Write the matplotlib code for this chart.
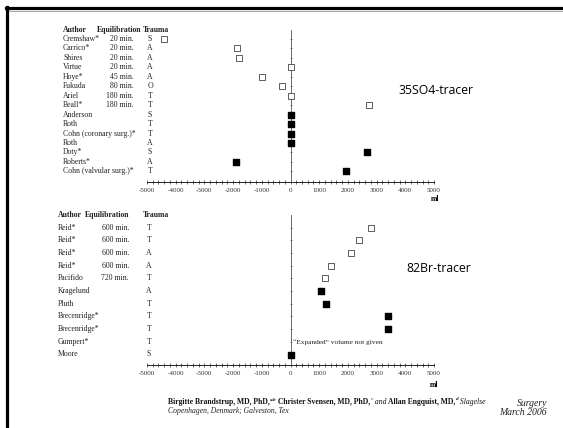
import numpy as np
import matplotlib
matplotlib.use("Agg")
import matplotlib.pyplot as plt
import matplotlib.transforms as mtransforms
from matplotlib.lines import Line2D
from matplotlib.ticker import MultipleLocator

plt.rcParams["axes.unicode_minus"] = False

# 35SO4 studies
top_authors = ["Cremshaw*", "Carrico*", "Shires", "Virtue", "Hoye*", "Fukuda", "Ariel", "Beall*",
               "Anderson", "Roth", "Cohn (coronary surg.)*", "Roth", "Doty*", "Roberts*",
               "Cohn (valvular surg.)*"]
top_equil = ["20 min.", "20 min.", "20 min.", "20 min.", "45 min.", "80 min.", "180 min.", "180 min.",
             "", "", "", "", "", "", ""]
top_trauma = ["S", "A", "A", "A", "A", "O", "T", "T", "S", "T", "T", "A", "S", "A", "T"]
top_values = [-4400, -1850, -1800, 0, -1000, -300, 0, 2750, 0, 0, 0, 0, 2650, -1900, 1950]
top_open = [True] * 8 + [False] * 7

# 82Br studies
bot_authors = ["Reid*", "Reid*", "Reid*", "Reid*", "Pacifido", "Kragelund", "Pluth",
               "Brecenridge*", "Brecenridge*", "Gumpert*", "Moore"]
bot_equil = ["600 min.", "600 min.", "600 min.", "600 min.", "720 min.", "", "", "", "", "", ""]
bot_trauma = ["T", "T", "A", "A", "T", "A", "T", "T", "T", "T", "S"]
bot_values = [2800, 2400, 2100, 1400, 1200, 1050, 1250, 3400, 3400, np.nan, 0]
bot_open = [True] * 5 + [False] * 6

W, H = 563, 428
serif = "Liberation Serif"


def fx(x):
    return x / W


def fy(y):
    return 1 - y / H


fig = plt.figure(figsize=(W / 100, H / 100), dpi=100)

# slide border
fig.add_artist(Line2D([fx(6), 1], [fy(8), fy(8)], color="black", lw=2.3))
fig.add_artist(Line2D([fx(9), 1], [fy(10.5), fy(10.5)], color="#999999", lw=0.6))
fig.add_artist(Line2D([fx(7), fx(7)], [fy(7), 0], color="black", lw=2.3))


def panel(top_px, bot_px, row0, step, authors, equil, trauma, values, is_open,
          x_author, x_eq, x_eqlabel, x_trauma, x_tr, tracer, tracer_xy, x_ml, y_ml):
    ax = fig.add_axes([fx(147), fy(bot_px), fx(434) - fx(147), (bot_px - top_px) / H])
    n = len(authors)
    rows = np.arange(n)
    ax.set_xlim(-5000, 5000)
    ax.set_ylim((bot_px - row0) / step, (top_px - row0) / step)
    ax.patch.set_visible(False)
    for s in ["top", "right"]:
        ax.spines[s].set_visible(False)
    ax.spines["left"].set_position(("data", 0))
    ax.spines["left"].set_color("#555555")
    ax.spines["left"].set_linewidth(0.6)
    ax.spines["bottom"].set_linewidth(0.6)
    ax.set_yticks(rows)
    ax.set_yticklabels([])
    ax.tick_params(axis="y", length=1.5, width=0.5, direction="inout", colors="#555555")
    ax.xaxis.set_major_locator(MultipleLocator(1000))
    ax.xaxis.set_minor_locator(MultipleLocator(200))
    ax.tick_params(axis="x", which="both", length=2.5, width=0.5, direction="inout",
                   labelsize=5, pad=3, colors="#333333")
    for lab in ax.get_xticklabels():
        lab.set_fontfamily(serif)

    vals = np.array(values, dtype=float)
    op = np.array(is_open)
    ax.scatter(vals[op], rows[op], marker="s", s=20, facecolors="white",
               edgecolors="#444444", linewidths=0.6, zorder=3, clip_on=False)
    ax.scatter(vals[~op], rows[~op], marker="s", s=22, c="black", zorder=3, clip_on=False)

    tr = mtransforms.blended_transform_factory(fig.transFigure, ax.transData)
    hdr_y = (top_px - row0) / step
    kw = dict(transform=tr, fontsize=5.6, family=serif, va="center", color="#222222")
    ax.text(fx(x_author), hdr_y, "Author", fontweight="bold", **kw)
    ax.text(fx(x_eqlabel), hdr_y, "Equilibration", fontweight="bold", **kw)
    ax.text(fx(x_trauma), hdr_y, "Trauma", fontweight="bold", **kw)
    for i in range(n):
        ax.text(fx(x_author), i, authors[i], **kw)
        if equil[i]:
            ax.text(fx(x_eq), i, equil[i], ha="right", **kw)
        ax.text(fx(x_tr), i, trauma[i], ha="center", **kw)

    fig.text(fx(tracer_xy[0]), fy(tracer_xy[1]), tracer, fontsize=8.8, family="Open Sans",
             va="center", ha="left")
    fig.text(fx(x_ml), fy(y_ml), "ml", fontsize=5.5, family=serif, fontweight="bold",
             ha="center", va="center")
    return ax


ax1 = panel(30, 182, 39, 9.45, top_authors, top_equil, top_trauma, top_values, top_open,
            63, 134, 97, 143, 150, "35SO4-tracer", (398, 90), 435, 199)
ax2 = panel(215, 365, 227.5, 12.7, bot_authors, bot_equil, bot_trauma, bot_values, bot_open,
            58, 129, 85, 143, 149, "82Br-tracer", (406, 268), 434, 385)
ax2.text(100, 9, "\u201cExpanded\u201d volume not given", fontsize=5.3, family=serif,
         va="center", ha="left", color="#222222")

# citation footer: pieces chained left to right on one baseline
pieces = [
    ("Birgitte Brandstrup, MD, PhD,", "bold", "normal", 5.5, 0),
    ("a,b", "bold", "italic", 3.8, 3),
    (" Christer Svensen, MD, PhD,", "bold", "normal", 5.5, 0),
    ("c", "normal", "italic", 3.8, 3),
    (" and ", "normal", "italic", 5.5, 0),
    ("Allan Engquist, MD,", "bold", "normal", 5.5, 0),
    ("d", "bold", "italic", 3.8, 3),
    (" Slagelse", "normal", "italic", 5.5, 0),
]
base = fig.text(fx(168), fy(405.5), pieces[0][0], fontsize=pieces[0][3], fontweight=pieces[0][1],
                fontstyle=pieces[0][2], family=serif, va="bottom", ha="left", color="#111111")
prev = base
for txt, wt, st, size, rise in pieces[1:]:
    prev = fig.add_artist(plt.Annotation(
        txt, xy=(1, 0), xycoords=(prev, base), xytext=(0, rise), textcoords="offset points",
        fontsize=size, fontweight=wt, fontstyle=st, family=serif,
        va="bottom", ha="left", color="#111111"))
fig.text(fx(168), fy(413), "Copenhagen, Denmark; Galveston, Tex", fontsize=5.5,
         fontstyle="italic", family=serif, va="baseline", color="#222222")
fig.text(fx(547), fy(406.5), "Surgery", fontsize=7, fontstyle="italic", family=serif,
         ha="right", va="baseline", color="#222222")
fig.text(fx(547), fy(415), "March 2006", fontsize=7, fontstyle="italic", family=serif,
         ha="right", va="baseline", color="#222222")

fig.savefig("out.png", dpi=100)
